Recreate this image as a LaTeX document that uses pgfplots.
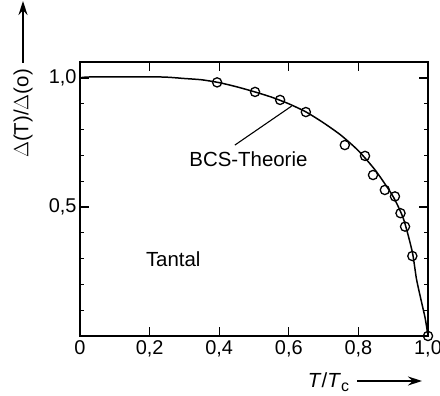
\documentclass[border=0pt]{standalone}
\usepackage{pgfplots}
\pgfplotsset{compat=1.18}
\usepackage{fontspec}
\setmainfont{Liberation Sans}
\usetikzlibrary{arrows.meta}
\begin{document}
\begin{tikzpicture}[font=\fontsize{20.5}{24}\selectfont]
\begin{axis}[
  at={(0,0)}, anchor=south west,
  width=348bp, height=274bp, scale only axis,
  xmin=0, xmax=1, ymin=0, ymax=1.062,
  xtick={0,0.2,0.4,0.6,0.8,1},
  xticklabels={0,{0,2},{0,4},{0,6},{0,8},{1,0}},
  ytick={0.5,1}, yticklabels={{0,5},{1,0}},
  minor ytick={0.1,0.2,0.3,0.4,0.6,0.7,0.8,0.9},
  tick align=inside,
  major tick length=9bp, minor tick length=4bp,
  tick style={black, line width=1.2pt},
  axis line style={black, line width=1.4pt},
  ticklabel style={font=\fontsize{20}{24}\selectfont},
  xticklabel style={yshift=-1bp},
  yticklabel style={xshift=0bp},
  clip=false,
]
\addplot[black, line width=1.5pt, smooth, tension=0.4] coordinates {
 (0,1.0) (0.03,1.004) (0.23,1.004) (0.3,0.998) (0.35,0.993) (0.4,0.982)
 (0.45,0.966) (0.5,0.947) (0.55,0.926) (0.6,0.900) (0.65,0.868) (0.7,0.826)
 (0.75,0.778) (0.8,0.718) (0.85,0.640) (0.9,0.540) (0.93,0.452) (0.955,0.325)
 (0.967,0.22) (0.982,0.128) (0.991,0.075) (0.996,0.036) (1.0,0)
};
\addplot[only marks, mark=o, mark size=4.6bp, mark options={black, fill=white, line width=1.3pt}] coordinates {
 (0.394,0.983) (0.503,0.946) (0.575,0.915) (0.649,0.868) (0.761,0.740)
 (0.819,0.698) (0.842,0.624) (0.876,0.566) (0.905,0.541) (0.921,0.476)
 (0.934,0.424) (0.955,0.310) (1.0,0.0)
};
\draw[black, line width=1.1pt] (axis cs:0.445,0.740) -- (axis cs:0.608,0.891);
\node[anchor=base, inner sep=0pt] at (axis cs:0.484,0.656) {BCS-Theorie};
\node[anchor=base, inner sep=0pt] at (axis cs:0.268,0.269) {Tantal};
\end{axis}
% axis labels with arrows
\node[rotate=90, inner sep=0pt] at (-57bp,222.5bp) {$\Delta$(T)/$\Delta$(o)};
\draw[black, line width=1.3pt, -{Stealth[length=14bp,width=9bp]}] (-57bp,273bp) -- (-57bp,335bp);
\node[anchor=base, inner sep=0pt] at (248.5bp,-51bp) {\textit{T}/\textit{T}\raisebox{-0.45ex}{\fontsize{16}{18}\selectfont c}};
\draw[black, line width=1.3pt, -{Stealth[length=14bp,width=9bp]}] (277bp,-45bp) -- (342bp,-45bp);
\pgfresetboundingbox
\path[use as bounding box] (-80bp,-60bp) rectangle (360bp,336bp);
\end{tikzpicture}
\end{document}
